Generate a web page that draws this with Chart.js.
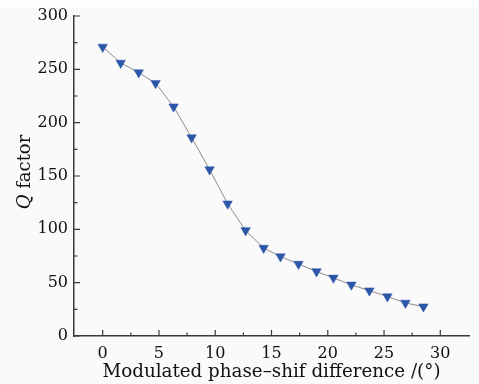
<!DOCTYPE html>
<html>
<head>
<meta charset="utf-8">
<script src="https://cdn.jsdelivr.net/npm/chart.js@4.4.0/dist/chart.umd.min.js"></script>
<style>
  html, body { margin: 0; padding: 0; }
  body { width: 479px; height: 384px; background: linear-gradient(#fff 0 7px, #fafafa 7px); }
  #wrap { position: relative; width: 479px; height: 384px; }
</style>
</head>
<body>
<div id="wrap"><canvas id="qChart" width="479" height="384"></canvas></div>
<script>
// data
const phaseDiff = [0, 1.6, 3.2, 4.7, 6.3, 7.9, 9.5, 11.1, 12.7, 14.3, 15.8, 17.4, 19.0, 20.5, 22.1, 23.7, 25.3, 26.9, 28.5];
const qFactor = [271, 256, 247, 237, 215, 186, 156, 124, 99, 82.5, 74.5, 67.5, 60.5, 54.5, 48, 42.5, 37, 31, 27.5];
const xTicks = [0, 5, 10, 15, 20, 25, 30];
const yTicks = [0, 50, 100, 150, 200, 250, 300];

const serif = '"DejaVu Serif", "Liberation Serif", serif';
const axisColor = '#3a3a3a';

// inward major/minor ticks + y title with italic Q
const axisDecor = {
  id: 'axisDecor',
  afterDraw(chart) {
    const { ctx, chartArea, scales } = chart;
    const x = scales.x, y = scales.y;
    ctx.save();
    ctx.strokeStyle = axisColor;
    ctx.lineWidth = 1.2;
    ctx.beginPath();
    for (let v = 0; v <= 30; v += 2.5) {
      const px = x.getPixelForValue(v);
      const len = v % 5 === 0 ? 6 : 3.5;
      ctx.moveTo(px, chartArea.bottom);
      ctx.lineTo(px, chartArea.bottom - len);
    }
    for (let v = 0; v <= 300; v += 25) {
      const py = y.getPixelForValue(v);
      const len = v % 50 === 0 ? 6 : 3.5;
      ctx.moveTo(chartArea.left, py);
      ctx.lineTo(chartArea.left + len, py);
    }
    ctx.stroke();

    // y axis title
    ctx.translate(25, (chartArea.top + chartArea.bottom) / 2 - 4);
    ctx.rotate(-Math.PI / 2);
    ctx.fillStyle = '#111';
    ctx.textBaseline = 'middle';
    const italic = 'italic 18px ' + serif;
    const normal = '18px ' + serif;
    ctx.font = italic;
    const w1 = ctx.measureText('Q').width;
    ctx.font = normal;
    const w2 = ctx.measureText(' factor').width;
    let start = -(w1 + w2) / 2;
    ctx.font = italic;
    ctx.fillText('Q', start, 0);
    ctx.font = normal;
    ctx.fillText(' factor', start + w1, 0);
    ctx.restore();
  }
};

const ctx = document.getElementById('qChart').getContext('2d');
const qChart = new Chart(ctx, {
  type: 'line',
  data: {
    datasets: [{
      label: 'Q factor',
      data: phaseDiff.map((p, i) => ({ x: p, y: qFactor[i] })),
      borderColor: '#8c8c8c',
      borderWidth: 1,
      pointStyle: 'triangle',
      rotation: 180,
      pointRadius: 5.5,
      pointBorderWidth: 0.5,
      pointBackgroundColor: '#2c56a8',
      pointBorderColor: '#2c56a8',
      tension: 0
    }]
  },
  options: {
    responsive: false,
    animation: false,
    layout: { padding: { top: 16, right: 10, left: 0, bottom: 0 } },
    plugins: {
      legend: { display: false },
      tooltip: { enabled: false }
    },
    scales: {
      x: {
        type: 'linear',
        min: -2.55,
        max: 32.55,
        afterBuildTicks: s => { s.ticks = xTicks.map(v => ({ value: v })); },
        afterFit: s => { s.height = 48; },
        grid: { display: true, drawOnChartArea: false, drawTicks: false },
        border: { color: axisColor, width: 1.5 },
        ticks: { color: '#111', font: { family: serif, size: 16 }, padding: 8, maxRotation: 0 },
        title: {
          display: true,
          text: 'Modulated phase–shif difference /(°)',
          color: '#111',
          font: { family: serif, size: 18.3 },
          padding: { top: 0, bottom: 1 }
        }
      },
      y: {
        min: 0,
        max: 300,
        afterBuildTicks: s => { s.ticks = yTicks.map(v => ({ value: v })); },
        afterFit: s => { s.width = 74; },
        grid: { display: true, drawOnChartArea: false, drawTicks: false },
        border: { color: axisColor, width: 1.5 },
        ticks: { color: '#111', font: { family: serif, size: 16 }, padding: 6 }
      }
    }
  },
  plugins: [axisDecor]
});
</script>
</body>
</html>
